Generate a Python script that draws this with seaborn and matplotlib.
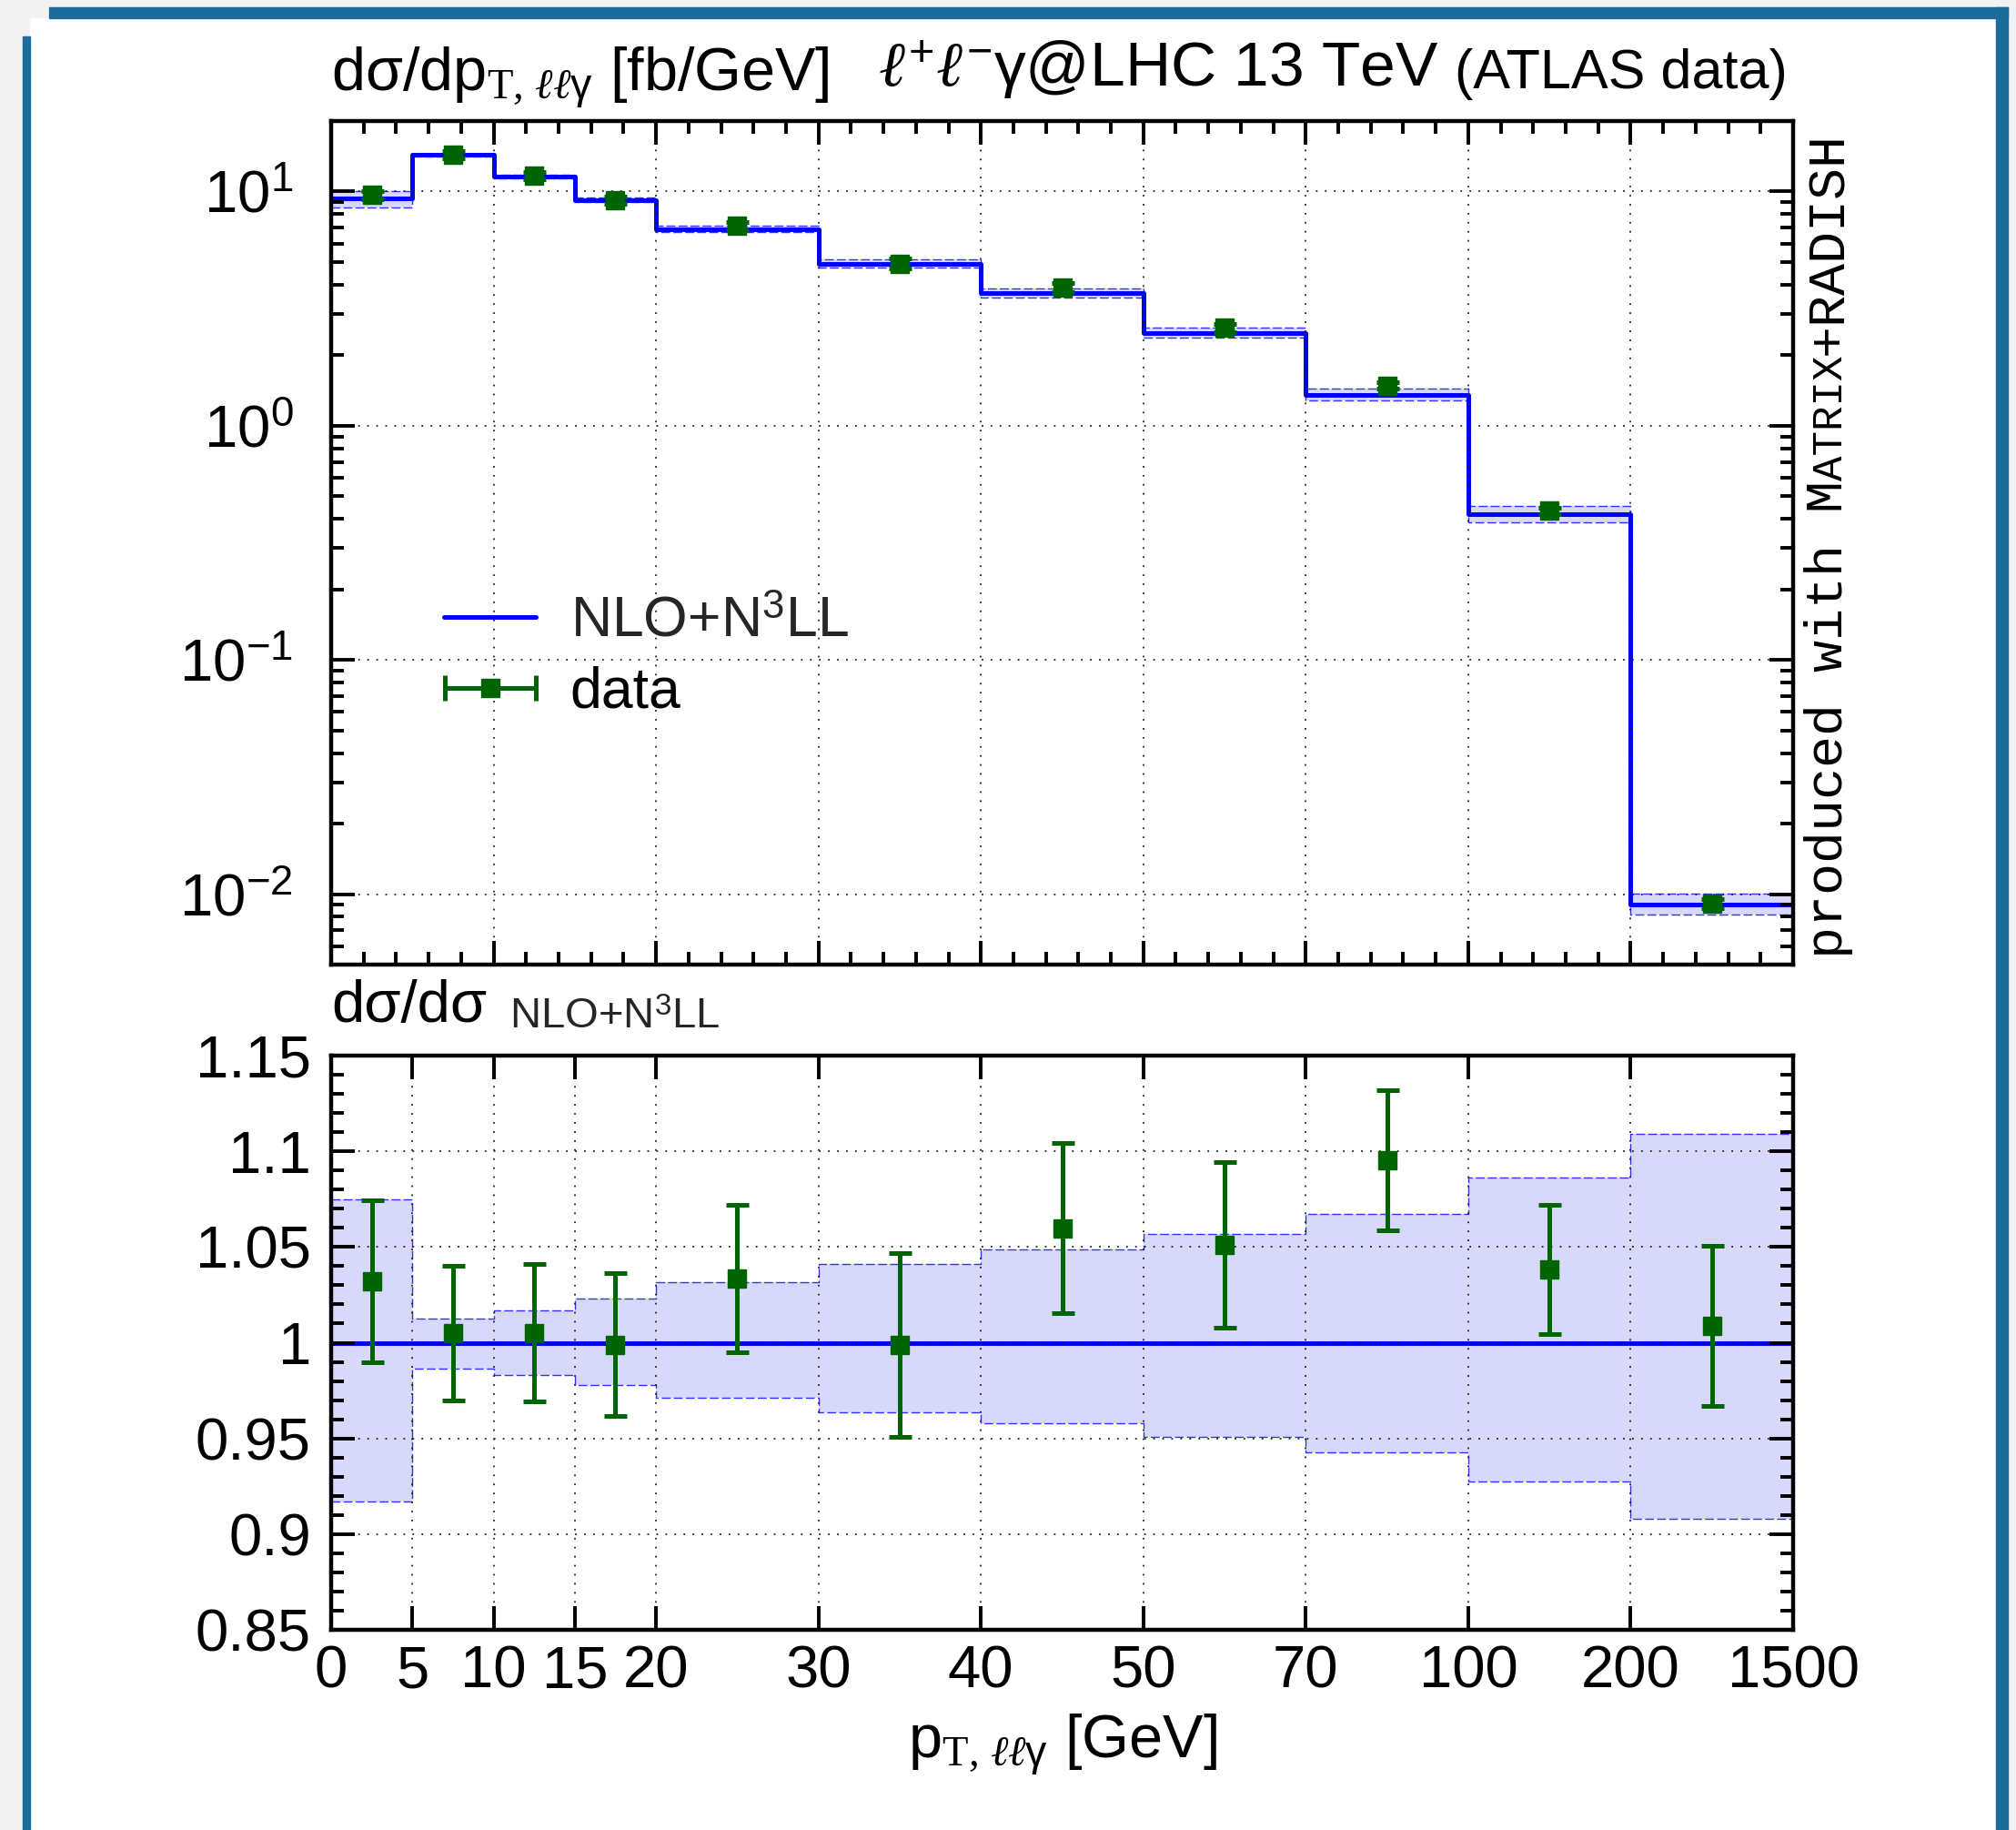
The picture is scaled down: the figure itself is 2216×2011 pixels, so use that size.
import numpy as np
import matplotlib
matplotlib.use("Agg")
import matplotlib.pyplot as plt
import seaborn as sns
from matplotlib.lines import Line2D
from matplotlib.patches import Rectangle
from matplotlib.collections import LineCollection
from matplotlib.container import ErrorbarContainer
from matplotlib.legend_handler import HandlerErrorbar
from matplotlib.ticker import (FixedLocator, NullLocator, LogLocator, FuncFormatter,
                               MultipleLocator, NullFormatter)

# ---- data ----
bin_edges = [0, 5, 10, 15, 20, 30, 40, 50, 70, 100, 200, 1500]
edge_labels = ["0", "5", "10", "15", "20", "30", "40", "50", "70", "100", "200", "1500"]
bin_centers = [2.5, 7.5, 12.5, 17.5, 25, 35, 45, 60, 85, 150, 850]

# NLO+N3LL prediction [fb/GeV]
theory = [9.35, 14.3, 11.6, 9.22, 6.90, 4.93, 3.68, 2.49, 1.355, 0.418, 0.00904]
# scale-uncertainty band, relative to the central prediction
band_up = [1.075, 1.0125, 1.017, 1.0232, 1.0315, 1.041, 1.0487, 1.0568, 1.0672, 1.0864, 1.1091]
band_lo = [0.917, 0.9865, 0.983, 0.978, 0.971, 0.9635, 0.9577, 0.951, 0.9428, 0.9277, 0.908]

# ATLAS data [fb/GeV]
data = [9.65, 14.37, 11.66, 9.21, 7.13, 4.925, 3.90, 2.617, 1.484, 0.434, 0.00912]
data_err = [0.397, 0.505, 0.418, 0.344, 0.266, 0.237, 0.164, 0.108, 0.0495, 0.0142, 0.000378]

# each bin gets its own slot on the x axis (first four bins half width)
slot_pos = [0, 0.5, 1, 1.5, 2, 3, 4, 5, 6, 7, 8, 9]

BLUE = "#0000ff"
BAND = "#d8d8fa"
BAND_EDGE = "#3030ff"
GREEN = "#006400"

W, H = 2216, 2011


def fx(px):
    return px / W


def fy(py):
    return 1 - py / H


def fwd(x):
    return np.interp(x, bin_edges, slot_pos)


def inv(u):
    return np.interp(u, slot_pos, bin_edges)


sns.set_theme(style="ticks")
plt.rcParams["font.family"] = ["Liberation Sans", "DejaVu Sans"]
plt.rcParams["mathtext.fontset"] = "custom"
plt.rcParams["mathtext.rm"] = "Liberation Serif"
plt.rcParams["mathtext.it"] = "Liberation Serif:italic"
plt.rcParams["mathtext.bf"] = "Liberation Serif:bold"
plt.rcParams["mathtext.sf"] = "Liberation Sans"
plt.rcParams["text.color"] = "black"
plt.rcParams["axes.labelcolor"] = "black"

fig = plt.figure(figsize=(W / 100, H / 100), dpi=100, facecolor="#f2f2f2")

# card-like frame around the plot
frame_blue = "#1c6b9d"
fig.add_artist(Rectangle((fx(33), fy(H)), fx(2194) - fx(33), fy(20) - fy(H),
                         transform=fig.transFigure, color="white", zorder=-10))
fig.add_artist(Rectangle((fx(54), fy(20)), fx(2207) - fx(54), fy(8) - fy(20),
                         transform=fig.transFigure, color=frame_blue, zorder=-9))
fig.add_artist(Rectangle((fx(25), fy(H)), fx(33) - fx(25), fy(40) - fy(H),
                         transform=fig.transFigure, color=frame_blue, zorder=-9))
fig.add_artist(Rectangle((fx(2194), fy(H)), fx(2207) - fx(2194), fy(8) - fy(H),
                         transform=fig.transFigure, color=frame_blue, zorder=-9))

ax1 = fig.add_axes([fx(364), fy(1060), fx(1971) - fx(364), fy(133) - fy(1060)])
ax2 = fig.add_axes([fx(364), fy(1791), fx(1971) - fx(364), fy(1160) - fy(1791)])

theory_a = np.array(theory)
theory_ext = np.append(theory_a, theory_a[-1])
up_ext = np.append(band_up, band_up[-1])
lo_ext = np.append(band_lo, band_lo[-1])
data_a = np.array(data)
err_a = np.array(data_err)

dash = (0, (7, 2.5))

# ---- upper panel ----
ax1.set_xscale("function", functions=(fwd, inv))
ax1.set_yscale("log")
ax1.fill_between(bin_edges, theory_ext * lo_ext, theory_ext * up_ext, step="post",
                 color=BAND, lw=0, zorder=1)
sns.lineplot(x=bin_edges, y=theory_ext * up_ext, drawstyle="steps-post", color=BAND_EDGE,
             lw=1.0, linestyle=dash, errorbar=None, ax=ax1, zorder=1.5)
sns.lineplot(x=bin_edges, y=theory_ext * lo_ext, drawstyle="steps-post", color=BAND_EDGE,
             lw=1.0, linestyle=dash, errorbar=None, ax=ax1, zorder=1.5)
sns.lineplot(x=bin_edges, y=theory_ext, drawstyle="steps-post", color=BLUE, lw=3.6,
             errorbar=None, ax=ax1, zorder=2)
ax1.errorbar(bin_centers, data_a, yerr=err_a, fmt="s", color=GREEN, ms=15,
             elinewidth=3.6, capsize=9, capthick=3.6, zorder=4)
ax1.set_xlim(0, 1500)
ax1.set_ylim(0.005, 20)
ax1.xaxis.set_major_locator(FixedLocator(inv(np.arange(0, 10))))
ax1.xaxis.set_minor_locator(FixedLocator(inv(np.arange(0, 9.01, 0.2))))
ax1.xaxis.set_major_formatter(NullFormatter())
ax1.yaxis.set_major_locator(LogLocator(base=10, numticks=12))
ax1.yaxis.set_minor_locator(LogLocator(base=10, subs=np.arange(2, 10), numticks=12))
ax1.yaxis.set_minor_formatter(NullFormatter())
ax1.yaxis.set_major_formatter(FuncFormatter(
    lambda v, p: r"$\mathsf{10^{%d}}$" % int(round(np.log10(v)))))
ax1.set_xlabel("")
ax1.set_ylabel("")

# legend
data_proxy = Line2D([], [], color=GREEN, marker="s", ms=14, ls="none")
cap_proxy = Line2D([], [], color=GREEN, marker="|", ms=20, mew=3.6)
bar_proxy = LineCollection([], colors=GREEN, linewidths=3.6)
data_handle = ErrorbarContainer((data_proxy, (cap_proxy,), (bar_proxy,)),
                                has_xerr=True, has_yerr=False, label="data")
theory_handle = Line2D([], [], color=BLUE, lw=3.6)
ax1.legend([theory_handle, data_handle], [r"NLO+N$^{\mathsf{3}}$LL", "data"],
           handler_map={ErrorbarContainer: HandlerErrorbar(xerr_size=0.8)},
           loc="center left", bbox_to_anchor=(fx(488), fy(722)), bbox_transform=fig.transFigure,
           frameon=False, fontsize=45, handlelength=1.62, handletextpad=0.6,
           labelspacing=0.3, borderpad=0, borderaxespad=0, numpoints=1,
           labelcolor=["#262626", "black"])

# ---- ratio panel ----
ratio = data_a / theory_a
ratio_err = err_a / theory_a
ax2.set_xscale("function", functions=(fwd, inv))
ax2.fill_between(bin_edges, lo_ext, up_ext, step="post", color=BAND, lw=0, zorder=1)
sns.lineplot(x=bin_edges, y=up_ext, drawstyle="steps-post", color=BAND_EDGE, lw=1.0,
             linestyle=dash, errorbar=None, ax=ax2, zorder=1.5)
sns.lineplot(x=bin_edges, y=lo_ext, drawstyle="steps-post", color=BAND_EDGE, lw=1.0,
             linestyle=dash, errorbar=None, ax=ax2, zorder=1.5)
sns.lineplot(x=bin_edges, y=theory_ext / theory_ext, drawstyle="steps-post", color=BLUE,
             lw=3.6, errorbar=None, ax=ax2, zorder=2)
ax2.errorbar(bin_centers, ratio, yerr=ratio_err, fmt="s", color=GREEN, ms=15,
             elinewidth=3.6, capsize=9, capthick=3.6, zorder=4)
ax2.set_xlim(0, 1500)
ax2.set_ylim(0.85, 1.15)
ax2.xaxis.set_major_locator(FixedLocator(bin_edges))
ax2.xaxis.set_minor_locator(NullLocator())
ax2.set_xticklabels(edge_labels)
ax2.yaxis.set_major_locator(MultipleLocator(0.05))
ax2.yaxis.set_minor_locator(MultipleLocator(0.01))
ax2.yaxis.set_major_formatter(FuncFormatter(lambda v, p: "%g" % round(v, 3)))
ax2.set_ylabel("")
ax2.set_xlabel(r"p$_{\mathrm{T},\,\ell\ell\mathsf{\gamma}}$ [GeV]", fontsize=48, labelpad=10)

for ax in (ax1, ax2):
    ax.set_axisbelow(False)
    ax.grid(True, which="major", color="#222222", lw=1.3, ls=(0, (1, 4.5)))
    ax.tick_params(which="both", direction="in", top=True, right=True, width=2.8,
                   color="black", labelcolor="black", labelsize=47)
    ax.tick_params(which="major", length=19)
    ax.tick_params(which="minor", length=10)
    for sp in ax.spines.values():
        sp.set_linewidth(3.2)
        sp.set_color("black")
        sp.set_zorder(5)
ax1.tick_params(axis="y", which="major", pad=30)
ax2.tick_params(axis="y", which="major", pad=16)
ax2.tick_params(axis="x", which="major", pad=12)

# ---- header texts ----
fig.text(fx(364), fy(100), r"dσ/dp$_{\mathrm{T},\,\ell\ell\mathsf{\gamma}}$ [fb/GeV]",
         fontsize=48, ha="left", va="baseline")
fig.text(fx(965), fy(95), r"$\ell^{\mathsf{+}}\ell^{\mathsf{-}}$γ@LHC 13 TeV",
         fontsize=50, ha="left", va="baseline")
fig.text(fx(1965), fy(97), "(ATLAS data)", fontsize=44, ha="right", va="baseline")
fig.text(fx(364), fy(1123), "dσ/dσ", fontsize=47, ha="left", va="baseline")
fig.text(fx(560), fy(1130), r"NLO+N$^{\mathsf{3}}$LL", fontsize=34, ha="left",
         va="baseline", color="#262626")

# rotated "produced with MATRIX+RADISH" with small caps
renderer = fig.canvas.get_renderer()
y_px = 1053
for piece, size in [("produced with M", 42), ("ATRIX", 33), ("+RADISH", 42)]:
    t = fig.text(fx(2025), fy(y_px), piece, rotation=90, rotation_mode="anchor",
                 ha="left", va="baseline", fontsize=size, family="Liberation Mono")
    ext = t.get_window_extent(renderer)
    y_px -= ext.height

fig.savefig("out.png", dpi=100, facecolor=fig.get_facecolor())
